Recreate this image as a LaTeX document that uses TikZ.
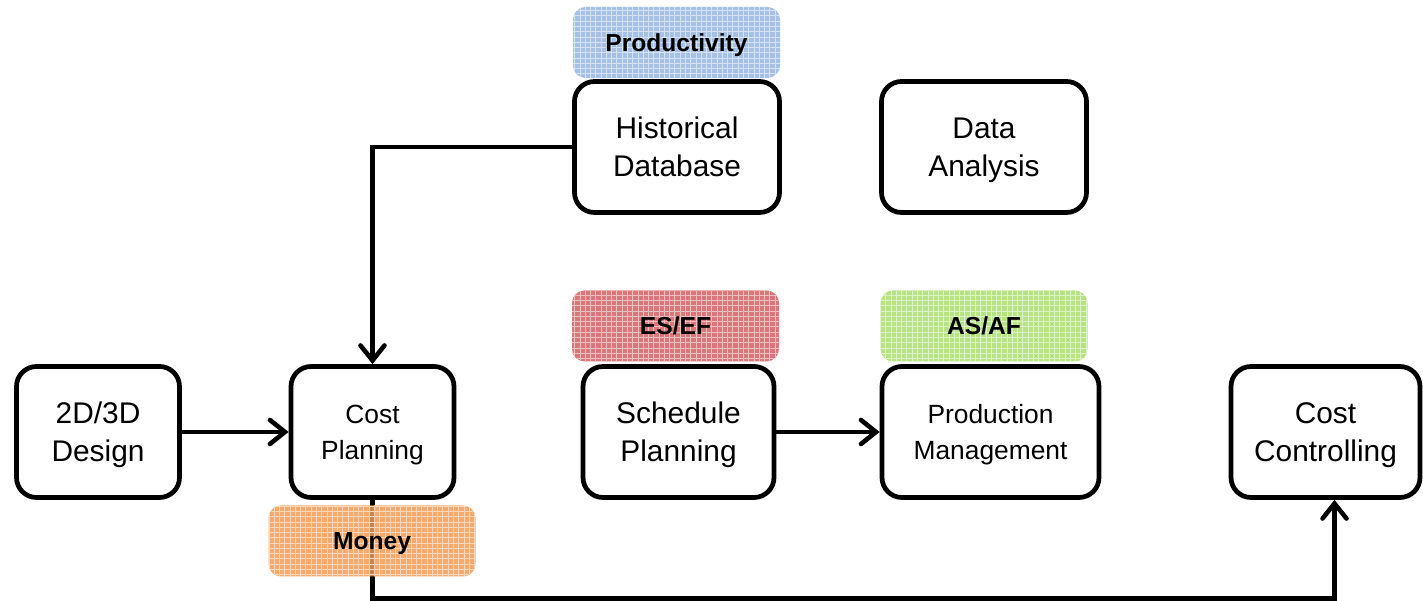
\documentclass[tikz,border=0pt]{standalone}
\usepackage{fontspec}
\setmainfont{Liberation Sans}
\usetikzlibrary{arrows.meta,patterns}
\definecolor{prodblue}{RGB}{150,182,225}
\definecolor{esred}{RGB}{212,95,100}
\definecolor{asgreen}{RGB}{170,222,110}
\definecolor{moneyorange}{RGB}{244,155,85}

\begin{document}
\begin{tikzpicture}[every node/.style={font=\fontsize{17}{21.5}\selectfont},
    box/.style={draw, line width=2.7pt, rounded corners=0.4cm, minimum height=2.62cm, align=center, fill=white, text depth=0pt},
    small/.style={font=\fontsize{15}{20.5}\selectfont},
    tag/.style={rounded corners=0.25cm, minimum width=4.14cm, minimum height=1.42cm, font=\fontsize{14}{17}\selectfont\bfseries,
        text depth=0pt, fill opacity=0.85, text opacity=1, postaction={pattern=grid, pattern color=white!60!#1}},
    link/.style={line width=2.6pt, -{Straight Barb[length=3mm,width=4.8mm,line cap=round]}}]
    \useasboundingbox (0,0) rectangle (28.46,12.02);
    % boxes
    \node[box, minimum width=3.26cm] (design) at (1.96,3.38) {2D/3D\\Design};
    \node[box, small, minimum width=3.26cm] (costplan) at (7.45,3.38) {Cost\\Planning};
    \node[box, minimum width=4.1cm] (histdb) at (13.54,9.08) {Historical\\Database};
    \node[box, minimum width=4.1cm] (analysis) at (19.68,9.08) {Data\\Analysis};
    \node[box, minimum width=3.82cm] (schedule) at (13.57,3.38) {Schedule\\Planning};
    \node[box, small, minimum width=4.34cm] (production) at (19.81,3.38) {Production\\Management};
    \node[box, minimum width=3.78cm] (costctrl) at (26.51,3.38) {Cost\\Controlling};
    \coordinate (bend) at (7.45,0.05);
    % connectors
    \draw[link] (histdb.west) -| (costplan.north);
    \draw[link] (design) -- (costplan);
    \draw[link] (schedule) -- (production);
    \draw[link] (costplan.south) -- (bend) -| ([xshift=0.18cm]costctrl.south);
    % tags
    \node[tag=prodblue, fill=prodblue] (productivity) at (13.53,11.17) {Productivity};
    \node[tag=esred, fill=esred] (esef) at (13.51,5.5) {ES/EF};
    \node[tag=asgreen, fill=asgreen] (asaf) at (19.68,5.5) {AS/AF};
    \node[tag=moneyorange, fill=moneyorange] (money) at (7.44,1.2) {Money};
\end{tikzpicture}
\end{document}
